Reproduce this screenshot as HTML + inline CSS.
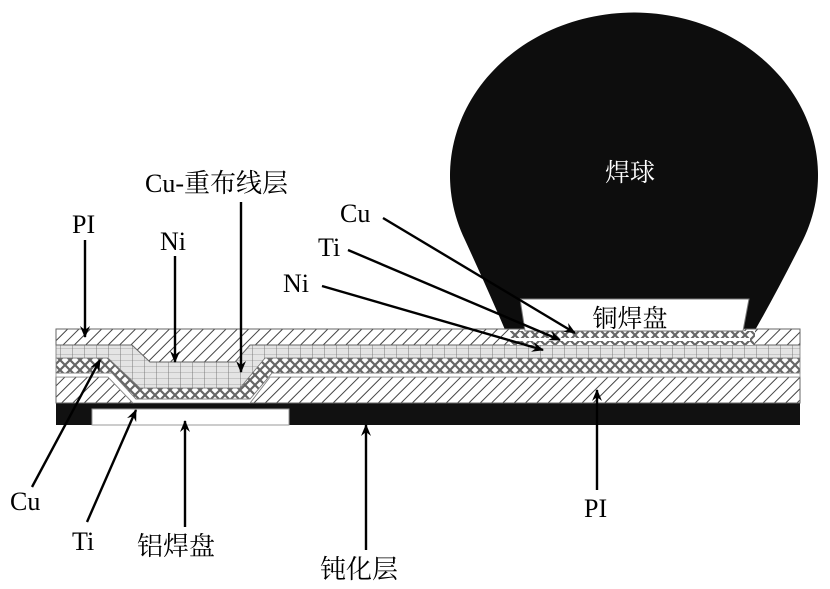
<!DOCTYPE html>
<html><head><meta charset="utf-8"><style>
html,body{margin:0;padding:0;background:#fff;}
svg{display:block;}
text{font-family:"Liberation Serif","Noto Serif CJK SC",serif;fill:#000;}
</style></head><body>
<svg width="830" height="589" viewBox="0 0 830 589" xmlns="http://www.w3.org/2000/svg">
<defs>
<pattern id="hatch" width="8" height="8" patternUnits="userSpaceOnUse" patternTransform="rotate(45)">
<rect width="8" height="8" fill="#fff"/><line x1="0" y1="0" x2="0" y2="8" stroke="#444" stroke-width="2"/></pattern>
<pattern id="grid" width="12" height="6" patternUnits="userSpaceOnUse">
<rect width="12" height="6" fill="#e4e4e4"/><line x1="0" y1="0" x2="12" y2="0" stroke="#999" stroke-width="0.8"/><line x1="0" y1="0" x2="0" y2="6" stroke="#777" stroke-width="1"/></pattern>
<pattern id="cross" width="10" height="10" patternUnits="userSpaceOnUse">
<rect width="10" height="10" fill="#fff"/><path d="M0 0 L10 10 M10 0 L0 10" stroke="#666" stroke-width="2.2"/></pattern>
<marker id="ah" markerWidth="12" markerHeight="12" refX="11" refY="6" orient="auto" markerUnits="userSpaceOnUse">
<path d="M0 1 L12 6 L0 11 L4 6 Z" fill="#000"/></marker>
</defs>

<!-- solder ball -->
<path d="M506 332 Q488 290 465 240 A184 163 0 1 1 803 240 Q778 290 754 332 Z" fill="#0d0d0d"/>
<text x="630" y="181" font-size="25" fill="#fff" style="fill:#fff" text-anchor="middle" font-family="Noto Sans CJK SC, sans-serif">焊球</text>

<!-- passivation -->
<rect x="56" y="403" width="744" height="22" fill="#111"/>
<rect x="92" y="409" width="197" height="16" fill="#fff" stroke="#999" stroke-width="1"/>

<!-- lower PI -->
<path d="M56 377 H108 L133 403 H56 Z" fill="url(#hatch)" stroke="#666"/>
<path d="M270 377 H800 V403 H250 Z" fill="url(#hatch)" stroke="#666"/>

<!-- Ti white line -->
<path d="M56 373 H112 L136 399 H250 L272 373 H800 V377 H270 L250 403 H133 L108 377 H56 Z" fill="#fff" stroke="#888" stroke-width="0.8"/>

<!-- Cu cross-hatch -->
<path d="M56 358 H108 L140 388 H240 L265 358 H800 V373 H272 L250 399 H136 L112 373 H56 Z" fill="url(#cross)" stroke="#777" stroke-width="0.8"/>

<!-- Ni grid -->
<path d="M56 345 H132 L150 362 H235 L250 345 H800 V358 H265 L240 388 H140 L108 358 H56 Z" fill="url(#grid)" stroke="#777" stroke-width="0.8"/>

<!-- top PI -->
<path d="M56 329 H800 V345 H250 L235 362 H150 L132 345 H56 Z" fill="url(#hatch)" stroke="#666"/>

<!-- Cu pad region over layers -->
<rect x="510" y="331" width="245" height="14" fill="url(#cross)"/>
<rect x="510" y="338" width="240" height="3" fill="#fff"/>
<polygon points="520,299 749,299 743,331 525,331" fill="#fff" stroke="#777" stroke-width="1"/>
<text x="630" y="327" font-size="25" text-anchor="middle">铜焊盘</text>

<!-- labels -->
<g font-size="26">
<text x="145" y="192">Cu-重布线层</text>
<text x="72" y="233">PI</text>
<text x="160" y="250">Ni</text>
<text x="340" y="222">Cu</text>
<text x="318" y="256">Ti</text>
<text x="283" y="292">Ni</text>
<text x="10" y="510">Cu</text>
<text x="72" y="550">Ti</text>
<text x="137" y="555">铝焊盘</text>
<text x="320" y="578">钝化层</text>
<text x="584" y="517">PI</text>
</g>

<!-- arrows -->
<g stroke="#000" stroke-width="2.4" fill="none" marker-end="url(#ah)">
<line x1="85" y1="240" x2="85" y2="337"/>
<line x1="175" y1="256" x2="175" y2="362"/>
<line x1="241" y1="202" x2="241" y2="372"/>
<line x1="383" y1="218" x2="575" y2="333"/>
<line x1="348" y1="250" x2="560" y2="340"/>
<line x1="322" y1="286" x2="543" y2="350"/>
<line x1="32" y1="487" x2="100" y2="360"/>
<line x1="87" y1="522" x2="136" y2="410"/>
<line x1="185" y1="527" x2="185" y2="421"/>
<line x1="366" y1="550" x2="366" y2="425"/>
<line x1="597" y1="490" x2="597" y2="390"/>
</g>
</svg>
</body></html>
